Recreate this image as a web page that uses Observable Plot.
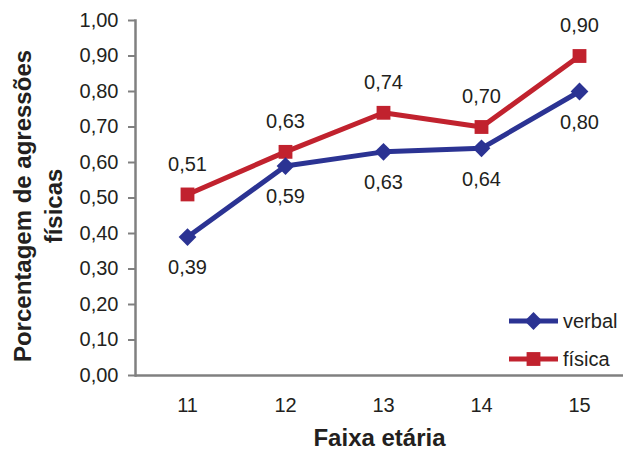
<!DOCTYPE html>
<html>
<head>
<meta charset="utf-8">
<script src="https://cdn.jsdelivr.net/npm/d3@7"></script>
<script src="https://cdn.jsdelivr.net/npm/@observablehq/plot@0.6"></script>
<style>
  html, body { margin: 0; padding: 0; background: #fff; }
  #chart svg { display: block; font-family: "Liberation Sans", Arial, sans-serif; }
</style>
</head>
<body>
<div id="chart"></div>
<script>
const ages = ["11", "12", "13", "14", "15"];
const verbal = [0.39, 0.59, 0.63, 0.64, 0.80];
const fisica = [0.51, 0.63, 0.74, 0.70, 0.90];
const seriesNames = ["verbal", "física"];
const yTicks = [0, 0.1, 0.2, 0.3, 0.4, 0.5, 0.6, 0.7, 0.8, 0.9, 1.0];
const xTitle = "Faixa etária";
const yTitle = "Porcentagem de agressões\nfísicas";

const fmt = d => d.toFixed(2).replace(".", ",");
const blue = "#2B3393";
const red = "#C1222E";
const gray = "#808080";
const ink = "#231F20";

const vData = ages.map((a, i) => ({age: a, value: verbal[i]}));
const fData = ages.map((a, i) => ({age: a, value: fisica[i]}));

const chart = Plot.plot({
  width: 623,
  height: 450,
  marginTop: 20,
  marginBottom: 75,
  marginLeft: 135,
  marginRight: 0,
  style: {fontFamily: "'Liberation Sans', Arial, sans-serif", color: ink},
  x: {type: "point", domain: ages, range: [185, 580], padding: 0},
  y: {domain: [0, 1]},
  marks: [
    Plot.axisY({ticks: yTicks, tickFormat: fmt, tickSize: 7, tickPadding: 10, fontSize: 20, label: null, stroke: gray, strokeWidth: 2}),
    Plot.axisX({tickSize: 0, tickPadding: 22, fontSize: 20, label: null}),
    Plot.frame({anchor: "left", stroke: gray, strokeWidth: 2.5}),
    Plot.ruleY([0], {stroke: gray, strokeWidth: 2.5}),
    Plot.line(fData, {x: "age", y: "value", stroke: red, strokeWidth: 5}),
    Plot.line(vData, {x: "age", y: "value", stroke: blue, strokeWidth: 5}),
    Plot.dot(fData, {x: "age", y: "value", symbol: "square", r: 7.8, fill: red}),
    Plot.dot(vData, {x: "age", y: "value", symbol: "diamond2", r: 8, fill: blue}),
    Plot.text(fData, {x: "age", y: "value", text: d => fmt(d.value), dy: -30, fontSize: 20, fill: ink, lineAnchor: "middle"}),
    Plot.text(vData, {x: "age", y: "value", text: d => fmt(d.value), dy: 31, fontSize: 20, fill: ink, lineAnchor: "middle"}),
    Plot.text([xTitle], {frameAnchor: "bottom", dy: 63, fontSize: 24, fontWeight: "bold", fill: ink, lineAnchor: "middle", textAnchor: "middle"}),
    Plot.text([yTitle], {frameAnchor: "left", dx: -99, dy: 8, rotate: -90, fontSize: 24, fontWeight: "bold", fill: ink, lineAnchor: "middle", textAnchor: "middle", lineHeight: 1.3})
  ]
});

// legend
const svg = d3.select(chart);
const leg = svg.append("g").attr("text-anchor", "start");
const items = [
  {name: seriesNames[0], color: blue, sym: d3.symbolDiamond2, size: Math.PI * 8 * 8, y: 321},
  {name: seriesNames[1], color: red, sym: d3.symbolSquare, size: Math.PI * 7.8 * 7.8, y: 359}
];
items.forEach(it => {
  leg.append("line").attr("x1", 509).attr("x2", 558).attr("y1", it.y).attr("y2", it.y)
    .attr("stroke", it.color).attr("stroke-width", 5);
  leg.append("path").attr("d", d3.symbol(it.sym, it.size)()).attr("transform", `translate(533.5,${it.y})`).attr("fill", it.color);
  leg.append("text").attr("x", 563).attr("y", it.y).attr("dy", "0.35em").attr("font-size", 20)
    .attr("text-anchor", "start").attr("fill", ink).text(it.name);
});

document.getElementById("chart").appendChild(chart);
</script>
</body>
</html>
